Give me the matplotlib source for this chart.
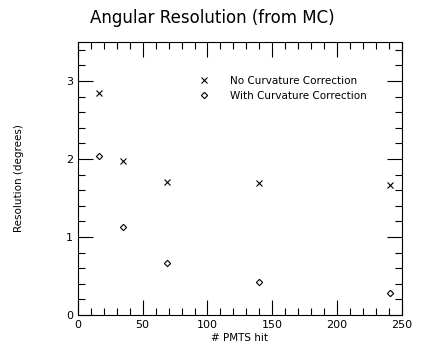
import matplotlib
matplotlib.use("Agg")
import matplotlib.pyplot as plt
from matplotlib.ticker import MultipleLocator

# data
pmts_hit = [16, 35, 69, 140, 241]
res_no_corr = [2.85, 1.98, 1.71, 1.69, 1.67]
res_with_corr = [2.04, 1.13, 0.67, 0.42, 0.28]

fig = plt.figure(figsize=(4.35, 3.58), dpi=100)
ax = fig.add_axes([0.179, 0.120, 0.745, 0.763])

ax.plot(pmts_hit, res_no_corr, linestyle="none", marker="x", color="black",
        markersize=4, markeredgewidth=0.8, label="No Curvature Correction")
ax.plot(pmts_hit, res_with_corr, linestyle="none", marker="D", color="black",
        markerfacecolor="white", markersize=3.2, markeredgewidth=0.8,
        label="With Curvature Correction")

ax.set_xlim(0, 250)
ax.set_ylim(0, 3.5)
ax.xaxis.set_major_locator(MultipleLocator(50))
ax.xaxis.set_minor_locator(MultipleLocator(10))
ax.yaxis.set_major_locator(MultipleLocator(1))
ax.yaxis.set_minor_locator(MultipleLocator(0.2))
ax.tick_params(which="both", direction="in", top=True, right=True,
               labelsize=8, width=0.8)
ax.tick_params(which="major", length=11)
ax.tick_params(which="minor", length=5)
for s in ax.spines.values():
    s.set_linewidth(0.8)

ax.set_xlabel("# PMTS hit", fontsize=7.5, labelpad=2)
ax.set_ylabel("Resolution (degrees)", fontsize=7.5, labelpad=30)

fig.text(212 / 435, 1 - 18 / 358, "Angular Resolution (from MC)",
         ha="center", va="center", fontsize=12)

ax.legend(frameon=False, loc="upper left", bbox_to_anchor=(0.345, 0.91),
          fontsize=7.5, handlelength=1.0, handletextpad=2.0,
          labelspacing=0.5)

fig.savefig("out.png", dpi=100)
